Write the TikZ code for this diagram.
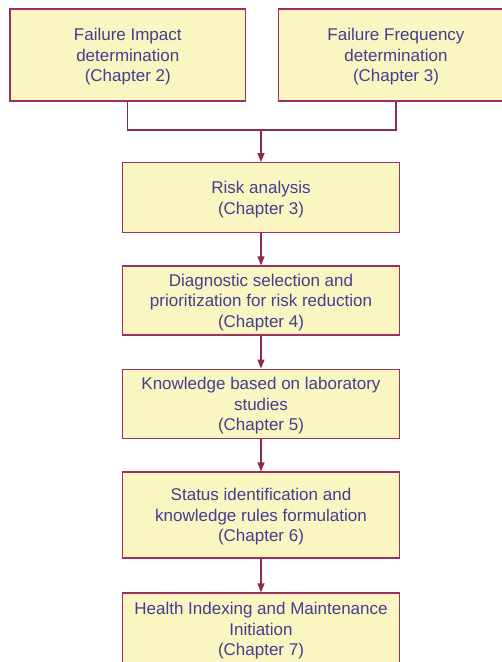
\documentclass[tikz,border=0pt]{standalone}
\usepackage{fontspec}
\setmainfont{Liberation Sans}
\usetikzlibrary{arrows.meta}
\definecolor{boxfill}{HTML}{FAF6C2}
\definecolor{boxline}{HTML}{9E3060}
\definecolor{boxtext}{HTML}{463D91}
\definecolor{linkcol}{HTML}{8E2A55}
\newcommand{\topstrut}{\rule{0pt}{16.5pt}}
\begin{document}
\begin{tikzpicture}[x=1pt,y=-1pt,
  box/.style={draw=boxline, fill=boxfill, text=boxtext, line width=1.2pt,
    align=center, inner sep=0pt, minimum width=276.6pt,
    font=\fontsize{17}{20.5}\selectfont},
  link/.style={draw=linkcol, line width=1.2pt},
  arr/.style={link, -{Triangle[length=9pt,width=7pt]}}]
  \useasboundingbox (0,0) rectangle (502,662);

  % Top row
  \node[box, minimum width=235.6pt, minimum height=92pt] (impact) at (127.8,55)
    {\topstrut Failure Impact\\determination\\(Chapter 2)};
  \node[box, minimum width=234.6pt, minimum height=92pt] (freq) at (396,55)
    {\topstrut Failure Frequency\\determination\\(Chapter 3)};

  % Main column
  \node[box, minimum height=70pt] (risk) at (261,197.7)
    {\topstrut Risk analysis\\(Chapter 3)};
  \node[box, minimum height=69pt] (diag) at (261,300.5)
    {\topstrut Diagnostic selection and\\prioritization for risk reduction\\(Chapter 4)};
  \node[box, minimum height=69pt] (know) at (261,403.6)
    {\topstrut Knowledge based on laboratory\\studies\\(Chapter 5)};
  \node[box, minimum height=86pt] (status) at (261,515)
    {\topstrut Status identification and\\knowledge rules formulation\\(Chapter 6)};
  \node[box, minimum height=72pt] (health) at (261,629)
    {\topstrut Health Indexing and Maintenance\\Initiation\\(Chapter 7)};

  % Connectors
  \coordinate (join) at (261,130);
  \draw[link] (impact.south) |- (join) -| (freq.south);
  \draw[arr] (join) -- (risk.north);
  \draw[arr] (risk) -- (diag);
  \draw[arr] (diag) -- (know);
  \draw[arr] (know) -- (status);
  \draw[arr] (status) -- (health);
\end{tikzpicture}
\end{document}
